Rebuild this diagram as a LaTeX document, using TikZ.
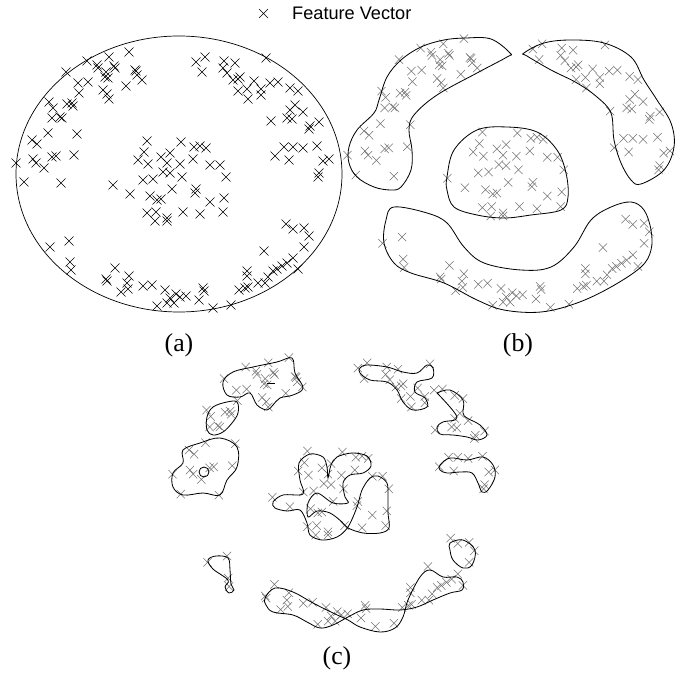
\documentclass[tikz,border=0pt]{standalone}
\usepackage{fontspec}
\setmainfont{Liberation Serif}
\newfontfamily\legendfont{Liberation Sans}
\tikzstyle{fvec}=[line width=0.45pt,black]
\tikzstyle{fvec gray}=[fvec,draw=black!55]
\tikzstyle{region}=[line width=0.7pt,black]
\tikzstyle{panel label}=[font=\fontsize{22}{25}\selectfont]

% feature vectors in pixels
\newcommand{\fvpoints}{129/52, 109/57, 87/61, 97/65, 66/72, 98/68, 106/72, 114/66,
  115/68, 105/77, 108/78, 135/70, 136/71, 137/75, 142/80, 126/86, 78/83, 88/82,
  79/93, 103/90, 107/94, 109/99, 49/102, 53/108, 52/118, 60/117, 62/118, 67/104,
  72/103, 73/106, 77/134, 48/133, 32/140, 37/144, 33/159, 36/163, 44/168, 52/157,
  56/156, 74/155, 16/163, 24/182, 61/183,
  196/62, 205/57, 202/72, 224/61, 235/63, 223/68, 227/73, 233/80, 238/79, 240/77,
  238/91, 248/99, 247/89, 254/81, 261/89, 261/95, 270/83, 278/82, 290/88, 298/91,
  266/58, 295/105, 290/110, 287/118, 292/119, 303/112, 310/126, 309/129, 319/122,
  271/121, 284/147, 293/147, 303/148, 317/146, 275/156, 289/160, 323/161, 329/159,
  319/173, 318/177,
  147/141, 181/142, 144/152, 138/160, 148/164, 161/157, 170/153, 167/163, 163/172,
  170/173, 180/164, 182/177, 194/147, 200/146, 206/148, 193/159, 210/165, 220/165,
  226/177, 143/180, 153/179, 113/185, 130/194, 172/189, 150/196, 157/200, 161/199,
  196/189, 195/193, 210/202, 224/198, 147/213, 156/212, 155/221, 167/218, 167/221,
  183/212, 200/214, 223/212,
  50/247, 69/241, 70/262, 71/270, 115/268, 106/279, 107/281, 129/276, 127/283,
  121/292, 128/289, 143/286, 152/285, 165/290, 170/298, 176/294, 180/297, 186/296,
  199/300, 203/288, 204/291, 157/306, 167/303, 174/303, 213/308, 231/305, 239/290,
  245/288, 248/287, 247/271, 247/276, 258/283, 265/283, 268/277, 273/271, 277/269,
  282/266, 287/263, 293/258, 298/269, 264/251, 304/247, 309/236, 286/224, 293/229,
  304/228}

\begin{document}
\begin{tikzpicture}[x=0.03cm,y=-0.03cm]
  \useasboundingbox (0,0) rectangle (694,677);

  % legend
  \draw[fvec] (259,9) -- (268,18) (259,18) -- (268,9);
  \node[anchor=west,inner sep=0pt,font=\legendfont\fontsize{15.5}{18}\selectfont] (legend) at (292,13) {Feature Vector};

  % (a) one ellipse round all
  \draw[region,line width=0.6pt] (179,174) ellipse (163 and 138);
  \foreach \x/\y in \fvpoints
    \draw[fvec] (\x-4.5,\y-4.5) -- (\x+4.5,\y+4.5) (\x-4.5,\y+4.5) -- (\x+4.5,\y-4.5);
  \node[panel label] (lab a) at (179,345) {(a)};

  % (b) four regions
  \begin{scope}[shift={(331,-16)},xscale=1.03,yscale=1.05]
    \foreach \x/\y in \fvpoints
      \draw[fvec gray] (\x-4,\y-4) -- (\x+4,\y+4) (\x-4,\y+4) -- (\x+4,\y-4);
  \end{scope}
  \draw[region] plot[smooth cycle,tension=0.6] coordinates {(510,53) (491,39) (466,38)
    (444,40) (421,47) (401,60) (387,77) (379,100) (374,113) (357,130) (349,147)
    (349,163) (357,177) (374,187) (391,190) (401,187) (411,170) (412,150) (409,130)
    (414,115) (437,95) (477,73) (507,57)};
  \draw[region] plot[smooth cycle,tension=0.6] coordinates {(524,53) (544,43) (571,40)
    (604,43) (631,57) (644,80) (657,100) (671,123) (674,147) (664,170) (641,184)
    (631,180) (621,163) (614,140) (611,113) (597,97) (577,83) (551,70) (527,56)};
  \draw[region] plot[smooth cycle,tension=0.6] coordinates {(447,177) (454,150) (477,130)
    (507,127) (537,132) (557,150) (566,173) (568,197) (561,210) (531,215) (504,218)
    (477,215) (454,207) (447,190)};
  \draw[region] plot[smooth cycle,tension=0.6] coordinates {(394,207) (427,213) (447,223)
    (464,247) (484,263) (521,270) (551,267) (574,247) (591,220) (611,207) (631,202)
    (644,210) (651,230) (651,250) (641,267) (611,287) (577,303) (541,312) (504,310)
    (477,300) (444,283) (411,273) (394,263) (384,243) (386,220)};
  \node[panel label] (lab b) at (518,345) {(b)};

  % (c) many small regions
  \begin{scope}[shift={(156,303)},xscale=1.03,yscale=1.05]
    \foreach \x/\y in \fvpoints
      \draw[fvec gray] (\x-4,\y-4) -- (\x+4,\y+4) (\x-4,\y+4) -- (\x+4,\y-4);
  \end{scope}
  \draw[region] plot[smooth cycle,tension=0.6] coordinates {(223,382) (233,372) (253,367)
    (277,362) (292,358) (295,373) (303,388) (293,395) (280,398) (273,405) (267,410)
    (257,405) (250,393) (240,397) (227,395)};
  \draw[region] (267,383) -- (275,383);
  \draw[region] plot[smooth cycle,tension=0.6] coordinates {(237,402) (238,413) (232,423)
    (223,432) (213,435) (207,430) (207,417) (213,407) (227,402)};
  \draw[region] plot[smooth cycle,tension=0.6] coordinates {(183,450) (200,443) (220,438)
    (237,447) (237,467) (227,480) (220,495) (203,493) (183,495) (173,487) (173,473)
    (183,463)};
  \draw[region] (204,472) circle (5);
  \draw[region] plot[smooth cycle,tension=0.6] coordinates {(360,368) (367,365) (387,367)
    (403,372) (417,373) (427,365) (433,368) (432,378) (417,382) (415,392) (425,398)
    (427,407) (413,410) (403,402) (397,390) (387,382) (370,380) (360,373)};
  \draw[region] plot[smooth,tension=0.6] coordinates {(437,393) (450,390) (463,400)
    (463,413) (467,418) (480,425) (487,435) (478,440) (467,437) (453,435) (440,434)
    (437,427) (443,422) (457,417) (437,393)};
  \draw[region] plot[smooth cycle,tension=0.6] coordinates {(440,465) (450,458) (467,460)
    (483,457) (493,465) (495,477) (488,490) (482,492) (478,483) (472,473) (460,472)
    (447,473) (440,470)};
  % tangled region in the middle
  \draw[region] plot[smooth cycle,tension=0.55] coordinates {(273,502) (283,495) (303,494)
    (300,480) (299,463) (310,454) (323,457) (327,467) (328,478) (331,465) (337,457)
    (352,453) (367,456) (371,466) (363,473) (350,475) (343,483) (345,497) (348,503)
    (333,503) (317,493) (308,503) (308,517) (317,511) (330,513) (342,522) (348,528)
    (363,533) (380,533) (389,528) (388,513) (388,497) (387,483) (378,476) (370,478)
    (362,490) (357,507) (348,527) (337,537) (322,540) (310,535) (307,523) (300,510)
    (287,511) (275,508)};
  \draw[region] plot[smooth cycle,tension=0.6] coordinates {(228,580) (213,569) (208,560)
    (216,556) (228,558) (230,570) (231,584) (234,590) (229,593) (225,587)};
  \draw[region] plot[smooth cycle,tension=0.6] coordinates {(450,543) (463,540) (475,550)
    (472,565) (463,568) (453,560) (450,550)};
  \draw[region] plot[smooth cycle,tension=0.6] coordinates {(265,598) (275,588) (293,592)
    (313,603) (333,613) (348,620) (360,627) (380,632) (395,628) (403,617) (408,600)
    (420,577) (430,570) (443,577) (457,577) (463,582) (462,590) (450,593) (433,600)
    (417,607) (400,610) (380,609) (363,610) (348,617) (333,625) (320,628) (307,622)
    (293,615) (273,612) (266,605)};
  \node[panel label] (lab c) at (337,658) {(c)};
\end{tikzpicture}
\end{document}
